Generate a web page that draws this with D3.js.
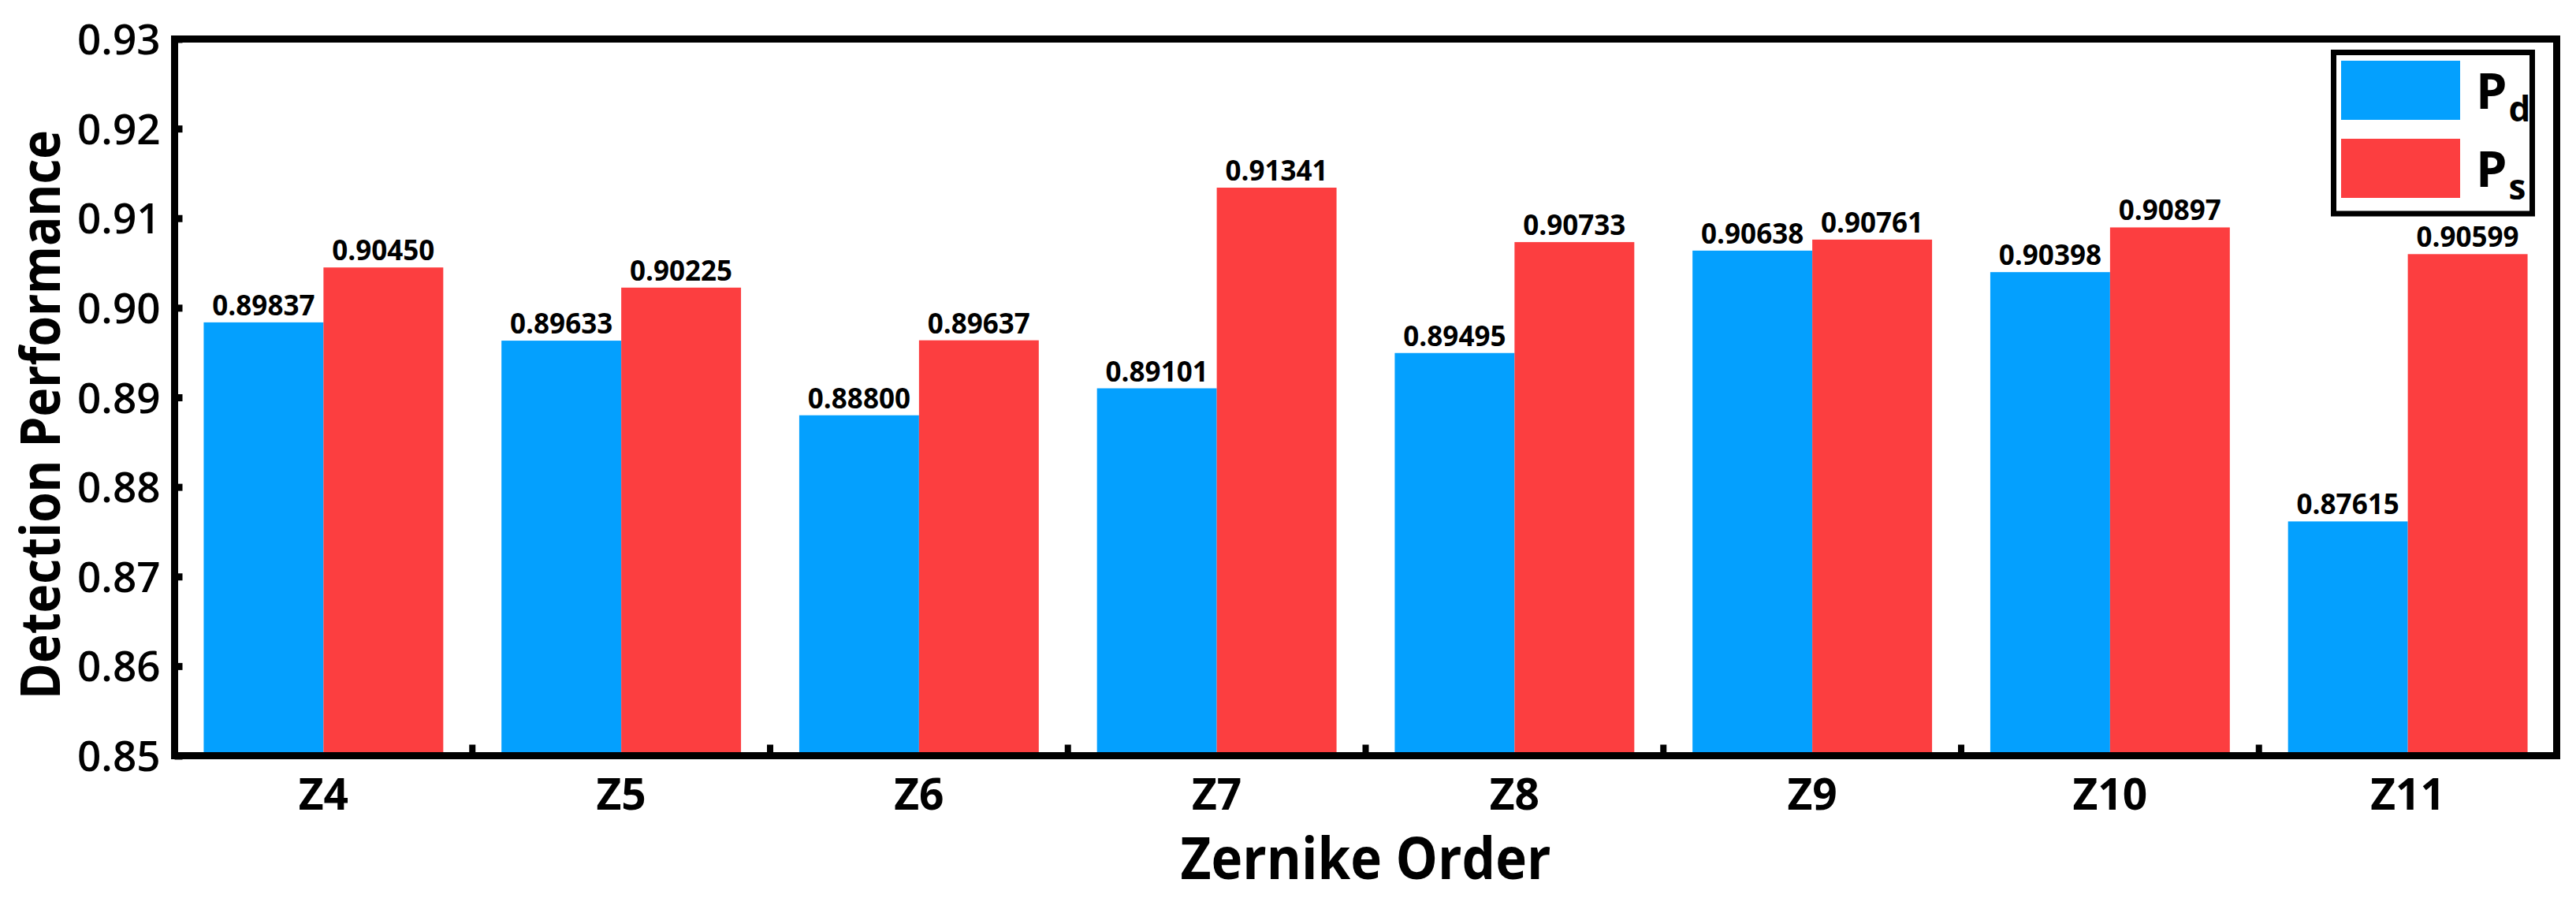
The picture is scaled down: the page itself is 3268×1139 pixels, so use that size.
<!DOCTYPE html>
<html>
<head>
<meta charset="utf-8">
<script src="https://cdn.jsdelivr.net/npm/d3@7"></script>
<style>
  html, body { margin: 0; padding: 0; background: #fff; }
  svg { display: block; font-family: "Open Sans", sans-serif; }
</style>
</head>
<body>
<svg id="chart" width="3268" height="1139"></svg>
<script>
const categories = ['Z4', 'Z5', 'Z6', 'Z7', 'Z8', 'Z9', 'Z10', 'Z11'];
const pdValues = [0.89837, 0.89633, 0.88800, 0.89101, 0.89495, 0.90638, 0.90398, 0.87615];
const psValues = [0.90450, 0.90225, 0.89637, 0.91341, 0.90733, 0.90761, 0.90897, 0.90599];
const yTicks = [0.85, 0.86, 0.87, 0.88, 0.89, 0.90, 0.91, 0.92, 0.93];
const seriesKeys = ['Pd', 'Ps'];
const seriesSub = ['d', 's'];

const colors = { Pd: '#04A0FE', Ps: '#FC3E40' };
const margin = { left: 221.5, right: 3243.5, top: 49.5, bottom: 958.5 };
const axisWidth = 9;

const svg = d3.select('#chart');

const x0 = d3.scaleBand()
    .domain(categories)
    .range([margin.left, margin.right])
    .padding(0);

const x1 = d3.scaleBand()
    .domain(seriesKeys)
    .range([0, x0.bandwidth()])
    .paddingInner(0)
    .paddingOuter(0.243);

const y = d3.scaleLinear()
    .domain([0.85, 0.93])
    .range([margin.bottom, margin.top]);

const rows = categories.map((c, i) => ({ cat: c, Pd: pdValues[i], Ps: psValues[i] }));

// bars
const groups = svg.append('g')
    .selectAll('g')
    .data(rows)
    .join('g')
    .attr('transform', d => `translate(${x0(d.cat)},0)`);

groups.selectAll('rect')
    .data(d => seriesKeys.map(k => ({ key: k, value: d[k] })))
    .join('rect')
    .attr('x', d => x1(d.key))
    .attr('y', d => y(d.value))
    .attr('width', x1.bandwidth())
    .attr('height', d => y(0.85) - y(d.value))
    .attr('fill', d => colors[d.key]);

groups.selectAll('text')
    .data(d => seriesKeys.map(k => ({ key: k, value: d[k] })))
    .join('text')
    .attr('x', d => x1(d.key) + x1.bandwidth() / 2)
    .attr('y', d => y(d.value) - 9)
    .attr('text-anchor', 'middle')
    .attr('font-size', 35)
    .attr('font-weight', 700)
    .text(d => d.value.toFixed(5));

// y axis ticks and labels
const yAxis = d3.axisLeft(y)
    .tickValues(yTicks)
    .tickSizeInner(-10)
    .tickSizeOuter(0)
    .tickPadding(18)
    .tickFormat(d3.format('.2f'));

const gy = svg.append('g')
    .attr('transform', `translate(${margin.left},0)`)
    .call(yAxis);
gy.select('.domain').remove();
gy.selectAll('.tick line')
    .attr('stroke', '#000')
    .attr('stroke-width', 9)
    .attr('x1', 0);
gy.selectAll('.tick text')
    .attr('font-size', 53)
    .attr('font-weight', 600)
    .attr('font-family', '"Open Sans", sans-serif')
    .attr('fill', '#000')
    .attr('dy', 19);

// x axis: labels at group centres, ticks between groups
const xAxis = d3.axisBottom(x0)
    .tickSize(0)
    .tickPadding(0);
const gx = svg.append('g')
    .attr('transform', `translate(0,${margin.bottom})`)
    .call(xAxis);
gx.select('.domain').remove();
gx.selectAll('.tick text')
    .attr('font-size', 55)
    .attr('font-weight', 700)
    .attr('font-family', '"Open Sans", sans-serif')
    .attr('fill', '#000')
    .attr('dy', null)
    .attr('y', 68);

svg.append('g')
    .selectAll('line')
    .data(categories.slice(1))
    .join('line')
    .attr('x1', d => x0(d))
    .attr('x2', d => x0(d))
    .attr('y1', margin.bottom)
    .attr('y2', margin.bottom - 14)
    .attr('stroke', '#000')
    .attr('stroke-width', 8);

// frame
svg.append('rect')
    .attr('x', margin.left)
    .attr('y', margin.top)
    .attr('width', margin.right - margin.left)
    .attr('height', margin.bottom - margin.top)
    .attr('fill', 'none')
    .attr('stroke', '#000')
    .attr('stroke-width', axisWidth);

// axis titles
svg.append('text')
    .attr('x', (margin.left + margin.right) / 2)
    .attr('y', 1115)
    .attr('text-anchor', 'middle')
    .attr('font-size', 73)
    .attr('font-weight', 700)
    .attr('textLength', 470)
    .attr('lengthAdjust', 'spacingAndGlyphs')
    .text('Zernike Order');

svg.append('text')
    .attr('transform', 'translate(76,526) rotate(-90)')
    .attr('text-anchor', 'middle')
    .attr('font-size', 70)
    .attr('font-weight', 700)
    .attr('textLength', 722)
    .attr('lengthAdjust', 'spacingAndGlyphs')
    .text('Detection Performance');

// legend
const legend = svg.append('g');
legend.append('rect')
    .attr('x', 2960.5)
    .attr('y', 66.5)
    .attr('width', 252)
    .attr('height', 204.5)
    .attr('fill', '#fff')
    .attr('stroke', '#000')
    .attr('stroke-width', 7);

const items = legend.selectAll('g.item')
    .data(seriesKeys)
    .join('g')
    .attr('class', 'item')
    .attr('transform', (d, i) => `translate(2970,${77 + i * 99})`);

items.append('rect')
    .attr('width', 151)
    .attr('height', 75)
    .attr('fill', d => colors[d]);

const lt = items.append('text')
    .attr('x', 171)
    .attr('y', 61)
    .attr('font-size', 63)
    .attr('font-weight', 700);
lt.append('tspan').text('P');
lt.append('tspan')
    .attr('font-size', 44)
    .attr('dx', 2)
    .attr('dy', 16)
    .text((d, i) => seriesSub[i]);
</script>
</body>
</html>
